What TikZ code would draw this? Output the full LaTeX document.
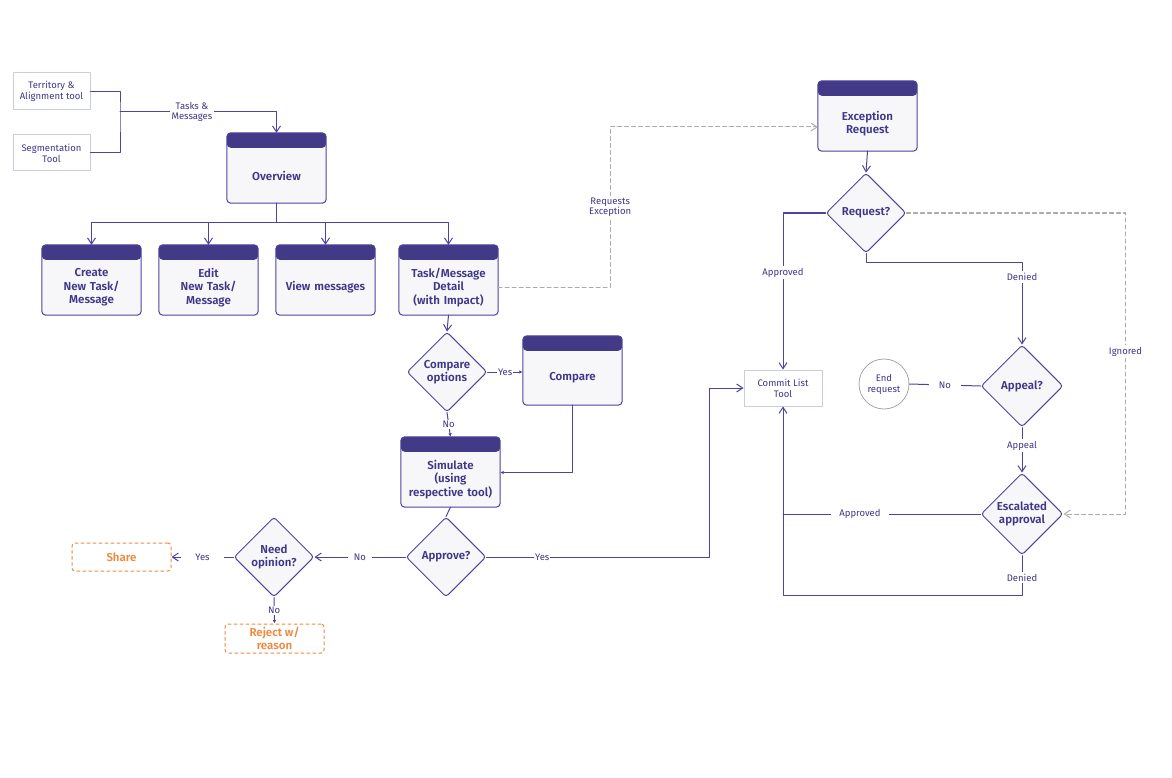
\documentclass[tikz,border=0pt]{standalone}
\usepackage{fontspec}
\setmainfont{Fira Sans}[BoldFont={Fira Sans SemiBold}]
\usetikzlibrary{arrows.meta,shapes.geometric,backgrounds}
\definecolor{ink}{HTML}{3F3689}
\definecolor{hdr}{HTML}{433A87}
\definecolor{lnpurple}{HTML}{4E43A0}
\definecolor{cardfill}{HTML}{F7F7F9}
\definecolor{toolln}{HTML}{C9CFDA}
\definecolor{dashgray}{HTML}{ABABAB}
\definecolor{orng}{HTML}{EC8A3F}

\begin{document}
\begin{tikzpicture}[x=1pt,y=-1pt,line cap=round,line join=round,
	>={Straight Barb[length=6pt,width=8pt]},
	cardtxt/.style={minimum width=99,minimum height=55,text width=95,align=center,inner sep=0,font=\bfseries\fontsize{11.5}{13.5}\selectfont,text=ink},
	card/.style={draw=lnpurple,line width=1pt,fill=cardfill,rounded corners=4,path picture={\fill[hdr] (path picture bounding box.north west) rectangle ([yshift=-15]path picture bounding box.north east);}},
	dia/.style={diamond,aspect=1,draw=lnpurple,line width=1pt,fill=cardfill,rounded corners=3,minimum width=80,minimum height=80,inner sep=0,align=center,font=\bfseries\fontsize{11.5}{13}\selectfont,text=ink},
	tool/.style={draw=toolln,line width=1pt,minimum width=77,minimum height=36,align=center,inner sep=0,font=\fontsize{9.5}{11}\selectfont,text=ink},
	endst/.style={circle,draw=gray!70,line width=0.8pt,minimum size=50,inner sep=0,align=center,font=\fontsize{9.5}{11}\selectfont,text=ink},
	outcome/.style={draw=orng,dashed,line width=1pt,rounded corners=3,minimum width=99,align=center,inner sep=0,font=\bfseries\fontsize{11.5}{13}\selectfont,text=orng},
	lbl/.style={fill=white,inner sep=2,align=center,font=\fontsize{9.5}{10.5}\selectfont,text=ink},
	ln/.style={draw=lnpurple,line width=1pt},
	dsh/.style={draw=dashgray,line width=1pt,dash pattern=on 4pt off 3pt},
	sm/.style={-{Latex[length=3.5pt,width=3.5pt]}}]
	\useasboundingbox (0,0) rectangle (1172,778);

	\node[tool,minimum height=37] (terr) at (51.5,91.5) {Territory \&\\Alignment tool};
	\node[tool] (seg) at (51.5,153) {Segmentation\\Tool};
	\node[cardtxt] (ov) at (276.5,175.5) {Overview};
	\node[cardtxt] (create) at (91.5,287.5) {Create\\New Task/\\Message};
	\node[cardtxt] (edit) at (208.5,287.5) {Edit\\New Task/\\Message};
	\node[cardtxt] (view) at (325.5,287.5) {View messages};
	\node[cardtxt] (detail) at (448.5,287.5) {Task/Message\\Detail\\(with Impact)};
	\node[dia] (cmpq) at (447,372) {Compare\\options};
	\node[cardtxt,minimum height=54] (cmp) at (572.5,378) {Compare};
	\node[cardtxt] (sim) at (450.5,479.5) {Simulate\\(using\\respective tool)};
	\node[dia] (apprq) at (446,557) {Approve?};
	\node[dia] (needq) at (274,557) {Need\\opinion?};
	\node[outcome,minimum height=28] (share) at (121.5,557) {Share};
	\node[outcome,minimum height=29] (reject) at (274.5,638.5) {Reject w/\\reason};
	\node[cardtxt] (exc) at (867.5,123.5) {Exception\\Request};
	\node[dia] (reqq) at (866,213) {Request?};
	\node[tool,minimum width=78] (commit) at (783,388) {Commit List\\Tool};
	\node[endst] (endr) at (884,384) {End\\request};
	\node[dia,minimum width=82,minimum height=82] (appq) at (1022,386) {Appeal?};
	\node[dia,minimum width=82,minimum height=82] (escq) at (1022,514) {Escalated\\approval};

	\begin{scope}[on background layer]
		\foreach \n in {ov,create,edit,view,detail,cmp,sim,exc}
			\draw[card] ([yshift=15]\n.north west) rectangle (\n.south east);
	\end{scope}

	\coordinate (jn) at (120,112);
	\coordinate (br) at (276.5,222);
	\draw[ln] (terr.east) -| (jn) |- (seg.east);
	\draw[ln,->] (jn) -| node[lbl,pos=0.23]{Tasks \&\\Messages} ([yshift=15]ov.north);
	\draw[ln] (ov.south) -- (br);
	\foreach \n in {create,edit,view,detail}
		\draw[ln,->] (br) -| ([yshift=15]\n.north);
	\draw[dsh,->] (detail.east) -- ++(112,0) |- node[lbl,pos=0.25]{Requests\\Exception} ([yshift=-3.5]exc.west);
	\draw[ln,->] (detail.south) -- (cmpq.north);
	\draw[ln,sm] (cmpq.east) -- node[lbl,inner sep=1]{Yes} (cmpq.east -| cmp.west);
	\draw[ln,sm] (cmp.south) |- ([yshift=7]sim.east);
	\draw[ln,sm] (cmpq.south) -- node[lbl,inner sep=1]{No} ([yshift=15]sim.north);
	\draw[ln] (sim.south) -- (apprq.north);
	\draw[ln,->] (apprq.east) -- node[lbl,pos=0.25,inner sep=1]{Yes} ++(223,0) |- (commit.west);
	\draw[ln,->] (apprq.west) -- node[lbl,inner xsep=6]{No} (needq.east);
	\draw[ln,->] (needq.west) -- node[lbl,inner xsep=14]{Yes} (share.east);
	\draw[ln,sm] (needq.south) -- node[lbl,inner sep=1]{No} (reject.north);
	\draw[ln,->] (exc.south) -- (reqq.north);
	\draw[ln,->] (reqq.west) -| node[lbl,pos=0.69]{Approved} (commit.north);
	\draw[ln,->] (reqq.south) -- ++(0,9) -| node[lbl,pos=0.59]{Denied} (appq.north);
	\draw[dsh,->] (reqq.east) -- ++(219,0) |- node[lbl,pos=0.23]{Ignored} (escq.east);
	\draw[ln] (appq.west) -- node[lbl,inner xsep=10]{No} (endr.east);
	\draw[ln,->] (appq.south) -- node[lbl,pos=0.4]{Appeal} (escq.north);
	\draw[ln] (escq.west) -- node[lbl,pos=0.61,inner xsep=8]{Approved} (escq.west -| commit.south);
	\draw[ln,->] (escq.south) -- node[lbl,pos=0.55]{Denied} ++(0,40) -| (commit.south);
\end{tikzpicture}
\end{document}
